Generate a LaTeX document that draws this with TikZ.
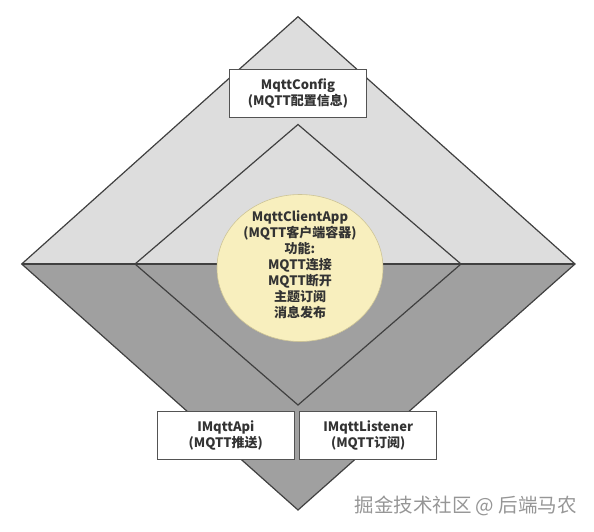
\documentclass[tikz,border=0pt]{standalone}
\usepackage{fontspec}
\setmainfont{Noto Sans CJK SC}
\usetikzlibrary{shapes.geometric}
\definecolor{lightg}{RGB}{221,221,221}
\definecolor{darkg}{RGB}{160,160,160}
\definecolor{edgec}{RGB}{64,64,64}
\definecolor{txt}{RGB}{51,51,51}
\definecolor{cream}{RGB}{248,239,190}
\definecolor{creamedge}{RGB}{205,196,150}
\definecolor{wm}{RGB}{150,150,150}
\begin{document}
\begin{tikzpicture}[x=1pt,y=-1pt,
  edge/.style={draw=edgec,line width=1.2pt,line join=miter},
  infobox/.style={draw=edgec!90,line width=1.1pt,fill=white,minimum width=137pt,minimum height=48pt,inner sep=0pt,align=center,text=txt,font=\fontsize{13}{16}\selectfont\bfseries},
  core/.style={ellipse,fill=cream,draw=creamedge,line width=0.6pt,minimum width=166pt,minimum height=147pt,inner sep=0pt}]
\useasboundingbox (0,0) rectangle (594,532);
\coordinate (OT) at (298,16.7);
\coordinate (OL) at (21.7,264);
\coordinate (OR) at (575,264);
\coordinate (OB) at (298,510);
\coordinate (IT) at (298,124.5);
\coordinate (IL) at (135,264);
\coordinate (IR) at (461,264);
\coordinate (IB) at (298,405);
\fill[lightg] (OL)--(OT)--(OR)--cycle;
\fill[darkg] (OL)--(OB)--(OR)--cycle;
\draw[edge] (OL)--(OT)--(OR)--(OB)--cycle;
\draw[edge] (IL)--(IT)--(IR)--(IB)--cycle;
\draw[edge] (OL)--(OR);
\node[core] (app) at (300,268) {};
\node[align=center,text=txt,font=\fontsize{13}{16}\selectfont\bfseries] (apptext) at (300,265)
  {MqttClientApp\\(MQTT客户端容器)\\功能:\\MQTT连接\\MQTT断开\\主题订阅\\消息发布};
\node[infobox] (config) at (298,93.5) {MqttConfig\\(MQTT配置信息)};
\node[infobox] (api) at (225.8,435.8) {IMqttApi\\(MQTT推送)};
\node[infobox] (listener) at (368.2,435.8) {IMqttListener\\(MQTT订阅)};
\node[text=wm,font=\fontsize{19.5}{21}\selectfont,anchor=east,inner sep=0pt] (mark) at (577,506) {掘金技术社区 @ 后端马农};
\end{tikzpicture}
\end{document}
